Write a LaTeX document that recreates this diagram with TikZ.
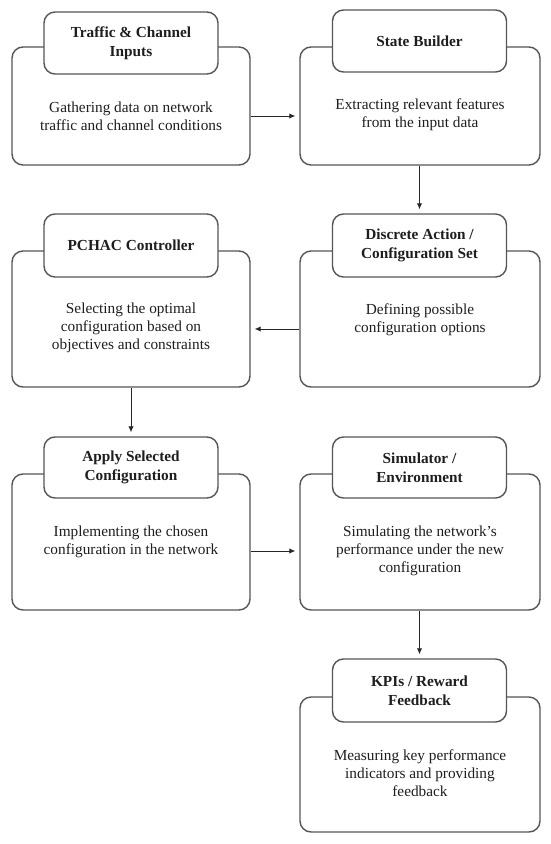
\documentclass[tikz,border=0pt]{standalone}
\usepackage{fontspec}
\setmainfont{Liberation Serif}
\usetikzlibrary{arrows.meta}
\definecolor{boxline}{RGB}{85,85,85}
\definecolor{txt}{RGB}{30,30,30}
\begin{document}
\begin{tikzpicture}[x=1pt,y=-1pt,
  bigbox/.style={draw=boxline,line width=1.4pt,fill=white,rounded corners=11pt,inner sep=0pt},
  headbox/.style={draw=boxline,line width=1.4pt,fill=white,rounded corners=11pt,inner sep=0pt,
    minimum width=174pt,text=txt,align=center,font=\fontsize{15.3}{19}\selectfont\bfseries},
  bodytext/.style={text=txt,align=center,inner sep=0pt,font=\fontsize{15.3}{18}\selectfont},
  arr/.style={draw=black!85,line width=1pt,-{Latex[length=6pt,width=5.5pt]},shorten >=4pt}]
\useasboundingbox (0,0) rectangle (550,844);
\fill[white] (0,0) rectangle (550,844);
% row 1
\node[bigbox,minimum width=238pt,minimum height=118pt] (b1) at (131,106) {};
\node[headbox,minimum height=62pt] (h1) at (131,43) {Traffic \& Channel\\Inputs};
\node[bodytext] (t1) at (131,116) {Gathering data on network\\traffic and channel conditions};
\node[bigbox,minimum width=240pt,minimum height=118pt] (b2) at (420,106) {};
\node[headbox,minimum height=62pt] (h2) at (419.5,41) {State Builder};
\node[bodytext] (t2) at (420,115) {Extracting relevant features\\from the input data};
% row 2
\node[bigbox,minimum width=238pt,minimum height=136pt] (b3) at (131,319) {};
\node[headbox,minimum height=63pt] (h3) at (131,245.5) {PCHAC Controller};
\node[bodytext] (t3) at (131,328) {Selecting the optimal\\configuration based on\\objectives and constraints};
\node[bigbox,minimum width=240pt,minimum height=136pt] (b4) at (420,319) {};
\node[headbox,minimum height=63pt] (h4) at (419.5,245.5) {Discrete Action /\\Configuration Set};
\node[bodytext] (t4) at (420,320) {Defining possible\\configuration options};
% row 3
\node[bigbox,minimum width=238pt,minimum height=136pt] (b5) at (131,542) {};
\node[headbox,minimum height=61pt] (h5) at (131,467.5) {Apply Selected\\Configuration};
\node[bodytext] (t5) at (131,542) {Implementing the chosen\\configuration in the network};
\node[bigbox,minimum width=240pt,minimum height=136pt] (b6) at (420,542) {};
\node[headbox,minimum height=61pt] (h6) at (419.5,467.5) {Simulator /\\Environment};
\node[bodytext] (t6) at (420,551) {Simulating the network's\\performance under the new\\configuration};
% row 4
\node[bigbox,minimum width=240pt,minimum height=135pt] (b7) at (420,764.5) {};
\node[headbox,minimum height=63pt] (h7) at (419.5,690.5) {KPIs / Reward\\Feedback};
\node[bodytext] (t7) at (420,773) {Measuring key performance\\indicators and providing\\feedback};
% connectors
\coordinate (a1) at (0,116);
\coordinate (a2) at (0,329);
\coordinate (a3) at (0,551);
\draw[arr] (b1.east |- a1) -- (b2.west |- a1);
\draw[arr] (b2.south -| h4.north) -- (h4.north);
\draw[arr] (b4.west |- a2) -- (b3.east |- a2);
\draw[arr] (b3.south) -- (h5.north);
\draw[arr] (b5.east |- a3) -- (b6.west |- a3);
\draw[arr] (b6.south -| h7.north) -- (h7.north);
\end{tikzpicture}
\end{document}
